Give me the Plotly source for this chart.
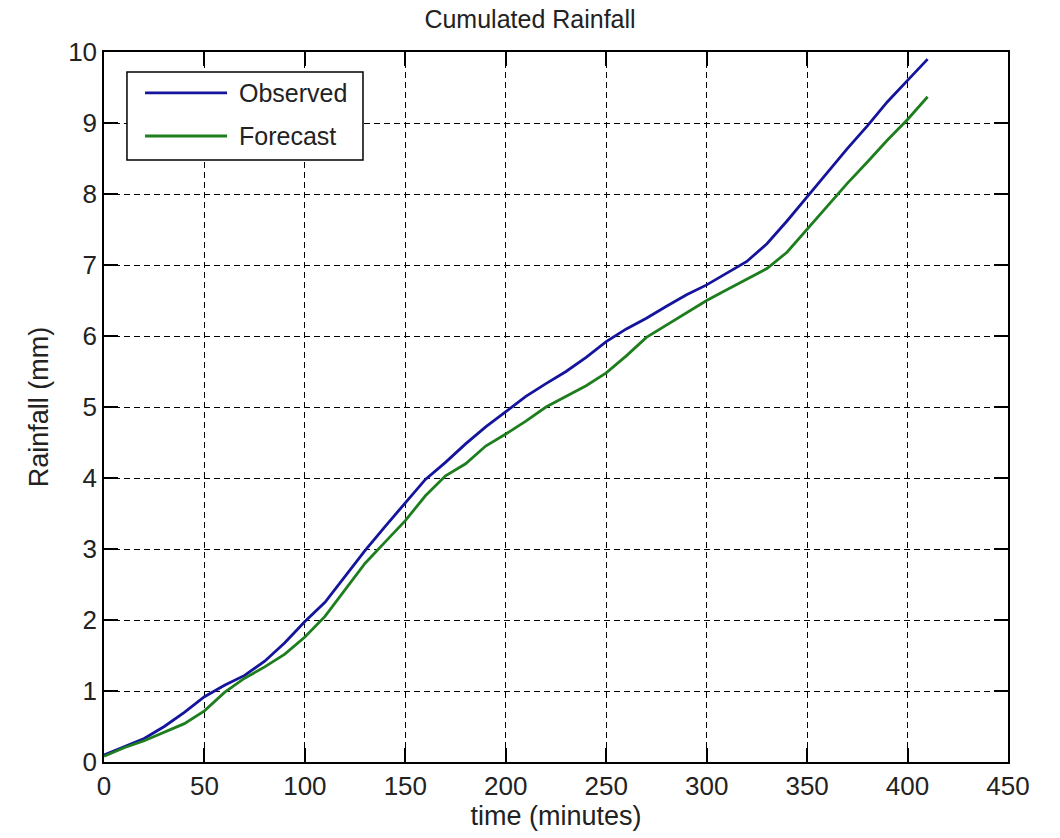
import plotly.graph_objects as go

time_min = [0, 10, 20, 30, 40, 50, 60, 70, 80, 90, 100, 110, 120, 130, 140, 150, 160, 170, 180, 190,
            200, 210, 220, 230, 240, 250, 260, 270, 280, 290, 300, 310, 320, 330, 340, 350, 360, 370,
            380, 390, 400, 410]
observed = [0.10, 0.22, 0.33, 0.50, 0.70, 0.92, 1.08, 1.22, 1.42, 1.68, 1.98, 2.25, 2.62, 2.98, 3.32,
            3.65, 3.98, 4.22, 4.48, 4.72, 4.94, 5.15, 5.33, 5.50, 5.70, 5.92, 6.10, 6.25, 6.42, 6.58,
            6.72, 6.88, 7.05, 7.30, 7.62, 7.96, 8.30, 8.64, 8.96, 9.30, 9.60, 9.90]
forecast = [0.08, 0.20, 0.30, 0.42, 0.54, 0.72, 0.98, 1.18, 1.34, 1.52, 1.76, 2.05, 2.42, 2.80, 3.10,
            3.40, 3.75, 4.03, 4.20, 4.45, 4.62, 4.80, 5.00, 5.15, 5.30, 5.48, 5.72, 5.98, 6.15, 6.33,
            6.50, 6.65, 6.80, 6.95, 7.18, 7.50, 7.82, 8.15, 8.45, 8.76, 9.05, 9.37]
series_names = ["Observed", "Forecast"]
series_colors = ["#14149c", "#1e7e1e"]

FONT = "Liberation Sans, Arial, sans-serif"
TXT = "#222"

fig = go.Figure()
for name, ys, col in zip(series_names, [observed, forecast], series_colors):
    fig.add_trace(go.Scatter(x=time_min, y=ys, mode="lines", name=name, showlegend=False,
                             line=dict(color=col, width=2.8)))

axis_common = dict(
    showline=True, linecolor="black", linewidth=1.5, mirror="ticks",
    ticks="inside", ticklen=14, tickcolor="black", tickwidth=1.5,
    showgrid=True, gridcolor="black", gridwidth=1, griddash="6px,4px",
    zeroline=False, tickfont=dict(size=26, color=TXT, family=FONT),
)

# manual legend box (paper coordinates of the plot area)
shapes = [dict(type="rect", xref="paper", yref="paper", x0=0.0254, x1=0.2865, y0=0.8479, y1=0.9718,
               line=dict(color="black", width=1.5), fillcolor="white", layer="above")]
annotations = []
row_y = [0.9423, 0.8817]
for name, col, yy in zip(series_names, series_colors, row_y):
    shapes.append(dict(type="line", xref="paper", yref="paper", x0=0.0454, x1=0.1361, y0=yy, y1=yy,
                       line=dict(color=col, width=2.8), layer="above"))
    annotations.append(dict(text=name, xref="paper", yref="paper", x=0.1471, y=yy, xanchor="left",
                            yanchor="middle", showarrow=False,
                            font=dict(size=25, color=TXT, family=FONT)))

fig.update_layout(
    width=1060, height=838,
    margin=dict(l=104, r=52, t=52, b=76),
    paper_bgcolor="white", plot_bgcolor="white",
    font=dict(family=FONT, color=TXT, size=24),
    title=dict(text="Cumulated Rainfall", x=0.5, xanchor="center", y=0.977, yanchor="middle",
               font=dict(size=25, color=TXT, family=FONT)),
    xaxis=dict(range=[0, 450], dtick=50, tick0=0,
               title=dict(text="time (minutes)", standoff=2, font=dict(size=27)), **axis_common),
    yaxis=dict(range=[0, 10], dtick=1, tick0=0,
               title=dict(text="Rainfall (mm)", standoff=12, font=dict(size=27)), **axis_common),
    shapes=shapes,
    annotations=annotations,
    showlegend=False,
)

fig.write_html("out.html")
